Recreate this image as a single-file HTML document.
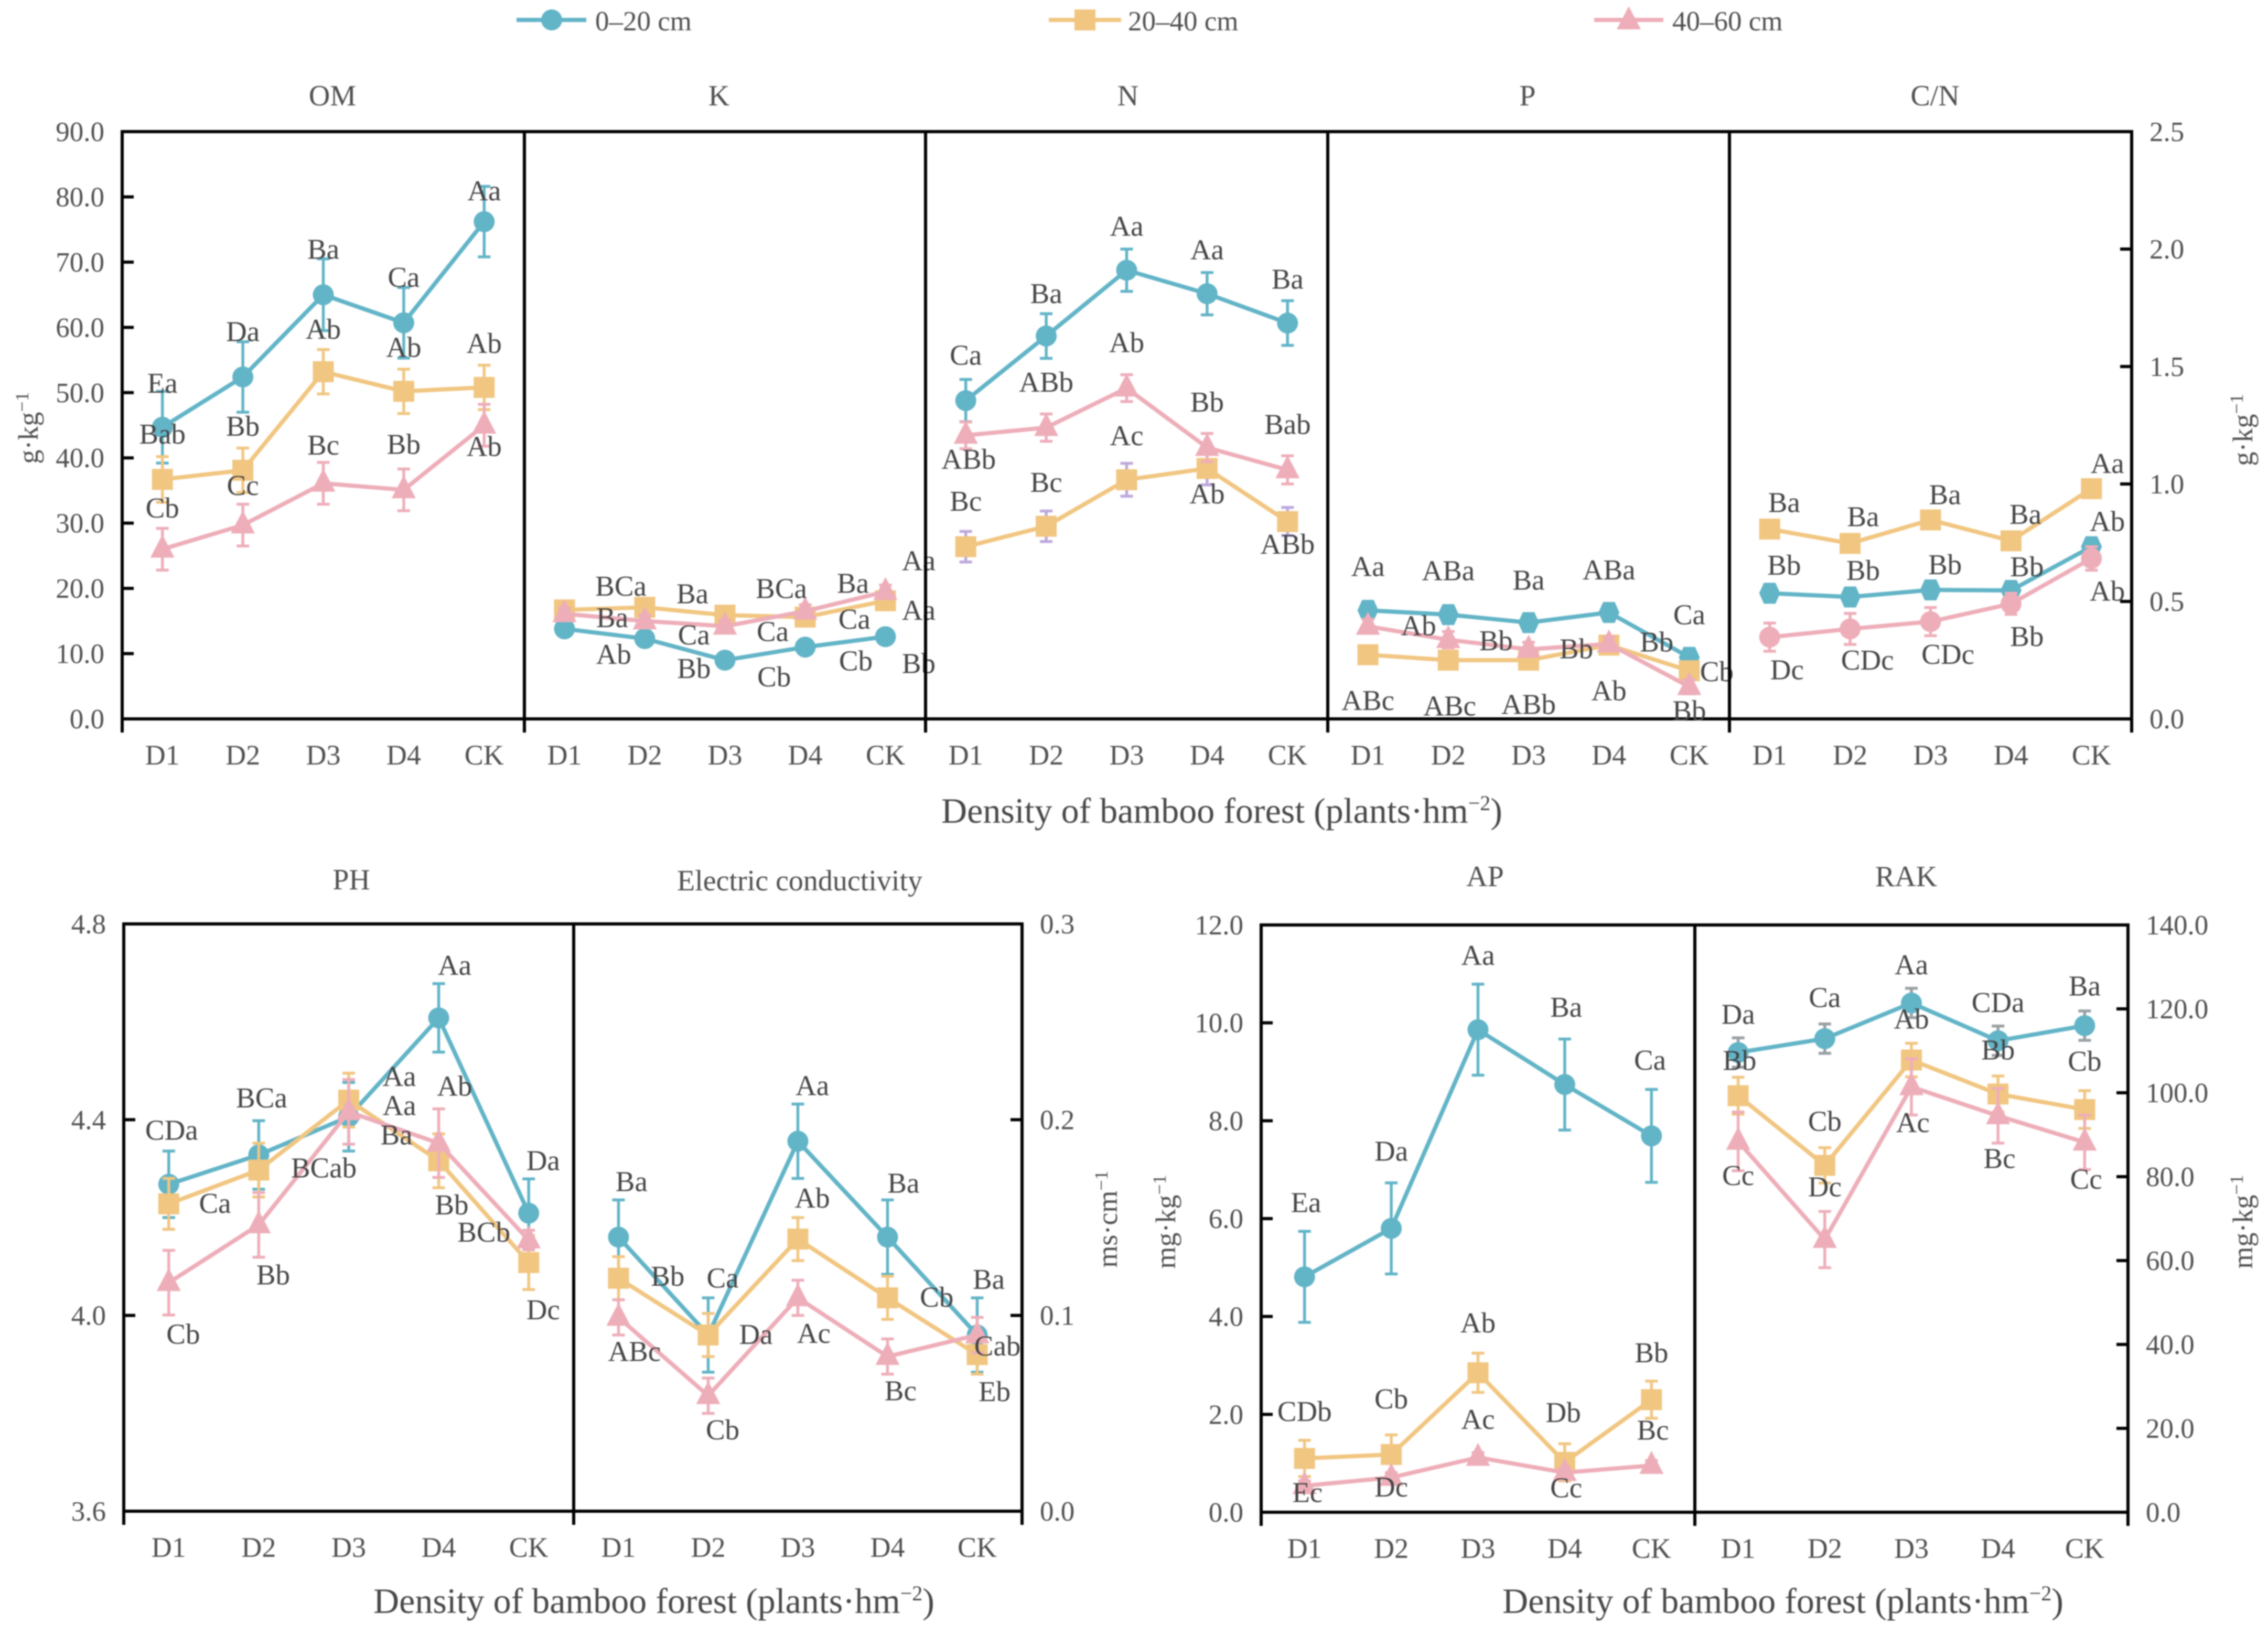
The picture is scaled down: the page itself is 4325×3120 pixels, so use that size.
<!DOCTYPE html>
<html lang="en">
<head>
<meta charset="utf-8">
<title>Soil properties by bamboo forest density</title>
<style>
html,body{margin:0;padding:0;background:#fff;}
body{width:4325px;height:3120px;overflow:hidden;}
svg{display:block;filter:blur(1px);}
text{font-family:"Liberation Serif",serif;fill:#505050;}
.t{font-size:56px;text-anchor:middle;}
.at{font-size:68px;text-anchor:middle;fill:#484848;}
.yt{font-size:54px;text-anchor:middle;}
.sup{font-size:36px;}
.at .sup{font-size:40px;}
.lg{font-size:53px;}
</style>
</head>
<body>
<svg id="chart" xmlns="http://www.w3.org/2000/svg" width="4325" height="3120" viewBox="0 0 4325 3120">
  <rect x="0" y="0" width="4325" height="3120" fill="#ffffff"/>
  <g>
    <g>
      <line x1="985" y1="38" x2="1118" y2="38" stroke="#62b4c7" stroke-width="8"/>
      <circle cx="1052" cy="38" r="20" fill="#62b4c7"/>
      <text class="lg" x="1135" y="58">0–20 cm</text>
    </g>
    <g>
      <line x1="2000" y1="38" x2="2138" y2="38" stroke="#f1c681" stroke-width="8"/>
      <rect x="2049" y="18" width="40" height="40" fill="#f1c681"/>
      <text class="lg" x="2151" y="58">20–40 cm</text>
    </g>
    <g>
      <line x1="3040" y1="38" x2="3172" y2="38" stroke="#eeaeb9" stroke-width="8"/>
      <polygon points="3106,12 3129,56 3083,56" fill="#eeaeb9"/>
      <text class="lg" x="3189" y="58">40–60 cm</text>
    </g>
  </g>
  <text class="t" x="634" y="201">OM</text>
  <text class="t" x="1371" y="201">K</text>
  <text class="t" x="2151" y="201">N</text>
  <text class="t" x="2913" y="201">P</text>
  <text class="t" x="3690" y="201">C/N</text>
  <text class="t" x="670" y="1696">PH</text>
  <text class="t" x="1525" y="1698">Electric conductivity</text>
  <text class="t" x="2832" y="1690">AP</text>
  <text class="t" x="3635" y="1690">RAK</text>

  <text class="at" x="2330" y="1569">Density of bamboo forest (plants·hm<tspan class="sup" dy="-24">−2</tspan><tspan dy="24">)</tspan></text>
  <text class="at" x="1247" y="3076">Density of bamboo forest (plants·hm<tspan class="sup" dy="-24">−2</tspan><tspan dy="24">)</tspan></text>
  <text class="at" x="3400" y="3076">Density of bamboo forest (plants·hm<tspan class="sup" dy="-24">−2</tspan><tspan dy="24">)</tspan></text>

  <text class="yt" transform="translate(72 816) rotate(-90)">g·kg<tspan class="sup" dy="-18">−1</tspan></text>
  <text class="yt" transform="translate(4295 820) rotate(-90)">g·kg<tspan class="sup" dy="-18">−1</tspan></text>
  <text class="yt" transform="translate(2130 2325) rotate(-90)">ms·cm<tspan class="sup" dy="-18">−1</tspan></text>
  <text class="yt" transform="translate(2241 2330) rotate(-90)">mg·kg<tspan class="sup" dy="-18">−1</tspan></text>
  <text class="yt" transform="translate(4295 2330) rotate(-90)">mg·kg<tspan class="sup" dy="-18">−1</tspan></text>
  <g id="plot"></g>
</svg>
<script>
const categories = ['D1', 'D2', 'D3', 'D4', 'CK'];

const omTicks = ['0.0','10.0','20.0','30.0','40.0','50.0','60.0','70.0','80.0','90.0'];
const gTicks = ['0.0','0.5','1.0','1.5','2.0','2.5'];
const phTicks = ['3.6','4.0','4.4','4.8'];
const ecTicks = ['0.0','0.1','0.2','0.3'];
const apTicks = ['0.0','2.0','4.0','6.0','8.0','10.0','12.0'];
const rakTicks = ['0.0','20.0','40.0','60.0','80.0','100.0','120.0','140.0'];

const omShallow = [44.7, 52.4, 65.0, 60.7, 76.2];
const omShallowErr = [5.5, 5.4, 5.5, 5.4, 5.4];
const omShallowText = ['Ea','Da','Ba','Ca','Aa'];
const omMiddle = [36.7, 38.1, 53.2, 50.2, 50.8];
const omMiddleErr = [3.5, 3.4, 3.4, 3.4, 3.4];
const omMiddleText = ['Bab','Bb','Ab','Ab','Ab'];
const omDeep = [26.0, 29.7, 36.1, 35.1, 45.0];
const omDeepErr = [3.2, 3.2, 3.2, 3.2, 3.2];
const omDeepText = ['Cb','Cc','Bc','Bb','Ab'];

const kShallow = [13.8, 12.3, 9.0, 11.0, 12.6];
const kShallowErr = [0.7, 0.7, 0.6, 0.7, 0.7];
const kShallowText = ['Ab','Bb','Cb','Cb','Bb'];
const kMiddle = [16.7, 17.1, 15.9, 15.6, 18.1];
const kMiddleErr = [0.8, 0.8, 0.8, 0.8, 0.8];
const kMiddleText = ['BCa','Ba','BCa','Ba','Aa'];
const kDeep = [16.1, 15.0, 14.2, 16.5, 19.5];
const kDeepErr = [0.9, 0.9, 0.9, 1.0, 1.0];
const kDeepText = ['Ba','Ca','Ca','Ca','Aa'];

const nShallow = [1.355, 1.63, 1.91, 1.81, 1.685];
const nShallowErr = [0.09, 0.095, 0.09, 0.09, 0.095];
const nShallowText = ['Ca','Ba','Aa','Aa','Ba'];
const nMiddle = [0.733, 0.82, 1.018, 1.066, 0.84];
const nMiddleErr = [0.065, 0.065, 0.07, 0.07, 0.06];
const nMiddleText = ['Bc','Bc','Ac','Ab','ABb'];
const nDeep = [1.207, 1.24, 1.408, 1.155, 1.06];
const nDeepErr = [0.057, 0.058, 0.057, 0.06, 0.06];
const nDeepText = ['ABb','ABb','Ab','Bb','Bab'];

const pShallow = [0.462, 0.444, 0.41, 0.453, 0.262];
const pShallowErr = [0.02, 0.02, 0.02, 0.02, 0.02];
const pShallowText = ['Aa','ABa','Ba','ABa','Ca'];
const pMiddle = [0.273, 0.25, 0.25, 0.314, 0.205];
const pMiddleErr = [0.02, 0.02, 0.02, 0.02, 0.02];
const pMiddleText = ['ABc','ABc','ABb','Ab','Cb'];
const pDeep = [0.394, 0.337, 0.296, 0.319, 0.137];
const pDeepErr = [0.03, 0.035, 0.03, 0.03, 0.03];
const pDeepText = ['Ab','Bb','Bb','Bb','Bb'];

const cnShallow = [0.535, 0.519, 0.549, 0.547, 0.733];
const cnShallowErr = [0.02, 0.02, 0.02, 0.02, 0.02];
const cnShallowText = ['Bb','Bb','Bb','Bb','Ab'];
const cnMiddle = [0.808, 0.747, 0.847, 0.758, 0.98];
const cnMiddleErr = [0.015, 0.015, 0.015, 0.015, 0.015];
const cnMiddleText = ['Ba','Ba','Ba','Ba','Aa'];
const cnDeep = [0.348, 0.383, 0.414, 0.49, 0.683];
const cnDeepErr = [0.06, 0.066, 0.06, 0.045, 0.05];
const cnDeepText = ['Dc','CDc','CDc','Bb','Ab'];

const phShallow = [4.268, 4.328, 4.406, 4.608, 4.209];
const phShallowErr = [0.068, 0.07, 0.07, 0.07, 0.07];
const phShallowText = ['CDa','BCa','Ba','Aa','Da'];
const phMiddle = [4.228, 4.297, 4.44, 4.316, 4.108];
const phMiddleErr = [0.052, 0.055, 0.055, 0.055, 0.055];
const phMiddleText = ['Ca','BCab','Aa','Bb','Dc'];
const phDeep = [4.067, 4.185, 4.416, 4.352, 4.154];
const phDeepErr = [0.066, 0.066, 0.066, 0.07, 0.02];
const phDeepText = ['Cb','Bb','Aa','Ab','BCb'];

const ecShallow = [0.14, 0.09, 0.189, 0.14, 0.09];
const ecShallowErr = [0.019, 0.019, 0.019, 0.019, 0.019];
const ecShallowText = ['Ba','Ca','Aa','Ba','Ba'];
const ecMiddle = [0.119, 0.09, 0.139, 0.109, 0.08];
const ecMiddleErr = [0.011, 0.011, 0.011, 0.011, 0.01];
const ecMiddleText = ['Bb','Da','Ab','Cb','Eb'];
const ecDeep = [0.099, 0.059, 0.109, 0.079, 0.09];
const ecDeepErr = [0.009, 0.009, 0.009, 0.009, 0.009];
const ecDeepText = ['ABc','Cb','Ac','Bc','Cab'];

const apShallow = [4.81, 5.8, 9.86, 8.74, 7.69];
const apShallowErr = [0.93, 0.93, 0.93, 0.93, 0.95];
const apShallowText = ['Ea','Da','Aa','Ba','Ca'];
const apMiddle = [1.1, 1.18, 2.85, 1.02, 2.3];
const apMiddleErr = [0.37, 0.4, 0.4, 0.38, 0.38];
const apMiddleText = ['CDb','Cb','Ab','Db','Bb'];
const apDeep = [0.54, 0.71, 1.12, 0.81, 0.955];
const apDeepErr = [0.1, 0.1, 0.1, 0.1, 0.1];
const apDeepText = ['Ec','Dc','Ac','Cc','Bc'];

const rakShallow = [109.6, 112.9, 121.4, 112.4, 116.0];
const rakShallowErr = [3.5, 3.5, 3.5, 3.5, 3.5];
const rakShallowText = ['Da','Ca','Aa','CDa','Ba'];
const rakMiddle = [99.3, 82.7, 107.8, 99.7, 96.0];
const rakMiddleErr = [4.4, 4.2, 4.0, 4.3, 4.5];
const rakMiddleText = ['Bb','Cb','Ab','Bb','Cb'];
const rakDeep = [88.4, 65.0, 101.4, 94.5, 88.2];
const rakDeepErr = [7.0, 6.7, 6.7, 6.5, 6.5];
const rakDeepText = ['Cc','Dc','Ac','Bc','Cc'];

/* label placement relative to each mark (layout only), in 1/2.758 px */
const NUDGE_UNIT = 2.758;
const labelPlacement = {
  om: [[[0,-30],[0,-31],[0,-31],[0,-31],[0,-21]],
       [[0,-31],[0,-30],[0,-29],[0,-30],[0,-30]],
       [[0,-28],[0,-27],[0,-26],[0,-31],[0,15]]],
  k:  [[[34,18],[34,21],[34,12],[35,10],[23,19]],
       [[39,-16],[33,-9],[39,-18],[33,-23],[23,7]],
       [[33,3],[34,10],[33,4],[34,6],[23,-21]]],
  n:  [[[0,-31],[0,-29],[0,-30],[0,-30],[0,-30]],
       [[0,-31],[0,-30],[0,-30],[0,18],[0,16]],
       [[2,17],[0,-31],[0,-31],[0,-31],[0,-31]]],
  p:  [[[0,-30],[0,-30],[0,-29],[0,-29],[0,-29]],
       [[0,32],[1,32],[0,31],[0,32],[19,1]],
       [[35,0],[33,1],[33,0],[33,-1],[0,17]]],
  cn: [[[10,-19],[9,-18],[10,-17],[11,-16],[11,-17]],
       [[10,-18],[9,-18],[10,-17],[10,-18],[11,-17]],
       [[12,23],[12,22],[12,23],[11,23],[11,23]]],
  ph: [[[2,-37],[2,-39],[33,13],[11,-36],[10,-36]],
       [[32,0],[45,-1],[35,-16],[9,31],[10,33]],
       [[10,36],[10,35],[35,-4],[11,-39],[-31,-5]]],
  ec: [[[9,-38],[10,-39],[10,-38],[11,-37],[8,-38]],
       [[34,-1],[33,0],[10,-28],[34,0],[12,26]],
       [[11,24],[10,24],[11,25],[9,24],[14,8]]],
  ap: [[[1,-51],[0,-53],[0,-51],[1,-53],[-1,-52]],
       [[0,-32],[0,-38],[0,-34],[-1,-34],[0,-32]],
       [[2,5],[0,7],[0,-26],[1,11],[1,-24]]],
  rak:[[[0,-26],[0,-28],[0,-26],[0,-26],[0,-27]],
       [[1,-24],[0,-30],[0,-28],[0,-30],[0,-33]],
       [[0,24],[0,-36],[1,25],[1,30],[1,26]]]
};

const BLUE = '#62b4c7', ORANGE = '#f1c681', PINK = '#eeaeb9', PURPLE = '#bda9dc', GREY = '#9aa0a4';

function seriesSet(a, ae, at, b, be, bt, c, ce, ct, opt) {
  opt = opt || {};
  return [
    { name: '0-20-cm', color: BLUE, errColor: opt.aErr || BLUE, marker: opt.aMark || 'circle', values: a, errors: ae, texts: at },
    { name: '20-40-cm', color: ORANGE, errColor: opt.bErr || ORANGE, marker: 'square', values: b, errors: be, texts: bt },
    { name: '40-60-cm', color: PINK, errColor: PINK, marker: opt.cMark || 'triangle', values: c, errors: ce, texts: ct }
  ];
}

const TOP_Y = [251, 1371], LEFT_Y = [1762, 2882], RIGHT_Y = [1764, 2884];
const panels = [
  { key:'om', x:[233,1000], y:TOP_Y, dom:[0,90], tickText:omTicks, axis:'left',
    series: seriesSet(omShallow,omShallowErr,omShallowText,omMiddle,omMiddleErr,omMiddleText,omDeep,omDeepErr,omDeepText) },
  { key:'k', x:[1000,1765], y:TOP_Y, dom:[0,90], tickText:null, axis:'none',
    series: seriesSet(kShallow,kShallowErr,kShallowText,kMiddle,kMiddleErr,kMiddleText,kDeep,kDeepErr,kDeepText) },
  { key:'n', x:[1765,2532], y:TOP_Y, dom:[0,2.5], tickText:null, axis:'none',
    series: seriesSet(nShallow,nShallowErr,nShallowText,nMiddle,nMiddleErr,nMiddleText,nDeep,nDeepErr,nDeepText,{bErr:PURPLE}) },
  { key:'p', x:[2532,3298], y:TOP_Y, dom:[0,2.5], tickText:null, axis:'none',
    series: seriesSet(pShallow,pShallowErr,pShallowText,pMiddle,pMiddleErr,pMiddleText,pDeep,pDeepErr,pDeepText,{aMark:'hexagon'}) },
  { key:'cn', x:[3298,4065], y:TOP_Y, dom:[0,2.5], tickText:gTicks, axis:'right',
    series: seriesSet(cnShallow,cnShallowErr,cnShallowText,cnMiddle,cnMiddleErr,cnMiddleText,cnDeep,cnDeepErr,cnDeepText,{aMark:'hexagon',cMark:'circle'}) },
  { key:'ph', x:[236,1094], y:LEFT_Y, dom:[3.6,4.8], tickText:phTicks, axis:'left',
    series: seriesSet(phShallow,phShallowErr,phShallowText,phMiddle,phMiddleErr,phMiddleText,phDeep,phDeepErr,phDeepText) },
  { key:'ec', x:[1094,1949], y:LEFT_Y, dom:[0,0.3], tickText:ecTicks, axis:'right',
    series: seriesSet(ecShallow,ecShallowErr,ecShallowText,ecMiddle,ecMiddleErr,ecMiddleText,ecDeep,ecDeepErr,ecDeepText) },
  { key:'ap', x:[2405,3232], y:RIGHT_Y, dom:[0,12], tickText:apTicks, axis:'left',
    series: seriesSet(apShallow,apShallowErr,apShallowText,apMiddle,apMiddleErr,apMiddleText,apDeep,apDeepErr,apDeepText) },
  { key:'rak', x:[3232,4058], y:RIGHT_Y, dom:[0,140], tickText:rakTicks, axis:'right',
    series: seriesSet(rakShallow,rakShallowErr,rakShallowText,rakMiddle,rakMiddleErr,rakMiddleText,rakDeep,rakDeepErr,rakDeepText,{aErr:GREY}) }
];

const NS = 'http://www.w3.org/2000/svg';
const plot = document.getElementById('plot');

function make(tag, attrs, parent) {
  const el = document.createElementNS(NS, tag);
  for (const k in attrs) el.setAttribute(k, attrs[k]);
  parent.appendChild(el);
  return el;
}

function xScale(p, i) {
  return p.x[0] + (i + 0.5) * (p.x[1] - p.x[0]) / categories.length;
}
function yScale(p, v) {
  return p.y[1] - (v - p.dom[0]) / (p.dom[1] - p.dom[0]) * (p.y[1] - p.y[0]);
}

function drawMarker(kind, cx, cy, color, parent) {
  if (kind === 'circle') return make('circle', { cx: cx, cy: cy, r: 20, fill: color }, parent);
  if (kind === 'square') return make('rect', { x: cx - 20, y: cy - 20, width: 40, height: 40, fill: color }, parent);
  let pts;
  if (kind === 'triangle') {
    pts = [[cx, cy - 28], [cx + 23, cy + 16], [cx - 23, cy + 16]];
  } else {
    pts = [[cx - 11, cy - 20], [cx + 11, cy - 20], [cx + 20, cy], [cx + 11, cy + 20], [cx - 11, cy + 20], [cx - 20, cy]];
  }
  return make('polygon', { points: pts.map(q => q.join(',')).join(' '), fill: color }, parent);
}

panels.forEach(p => {
  const g = make('g', {}, plot);
  
  

  /* frame */
  const topLine = make('line', { x1: p.x[0] - 3, y1: p.y[0], x2: p.x[1] + 3, y2: p.y[0], stroke: '#000', 'stroke-width': 6 }, g);
  
  
  const xAxis = make('line', { x1: p.x[0] - 3, y1: p.y[1], x2: p.x[1] + 3, y2: p.y[1], stroke: '#000', 'stroke-width': 6 }, g);
  
  
  [p.x[0], p.x[1]].forEach((vx, idx) => {
    const v = make('line', { x1: vx, y1: p.y[0] - 3, x2: vx, y2: p.y[1] + 26, stroke: '#000', 'stroke-width': 6 }, g);
    
    
  });

  /* y ticks */
  if (p.tickText) {
    p.tickText.forEach(txt => {
      const val = parseFloat(txt);
      const ty = yScale(p, val);
      const edge = p.axis === 'left' ? p.x[0] : p.x[1];
      const dir = p.axis === 'left' ? 1 : -1;
      if (val !== p.dom[0] && val !== p.dom[1]) {
        const t = make('line', { x1: edge, y1: ty, x2: edge + dir * 22, y2: ty, stroke: '#000', 'stroke-width': 6 }, g);
        
        
      }
      const lbl = make('text', { x: edge - dir * 34, y: ty + 18, 'font-size': 53, 'text-anchor': p.axis === 'left' ? 'end' : 'start' }, g);
      lbl.textContent = txt;
      
      
    });
  }

  /* categories */
  categories.forEach((c, i) => {
    const lbl = make('text', { x: xScale(p, i), y: p.y[1] + 87, 'font-size': 54, 'text-anchor': 'middle' }, g);
    lbl.textContent = c;
    
    
  });

  /* series */
  p.series.forEach(s => {
    const sg = make('g', {}, g);
    
    
    const pts = s.values.map((v, i) => xScale(p, i) + ',' + yScale(p, v)).join(' ');
    const line = make('polyline', { points: pts, fill: 'none', stroke: s.color, 'stroke-width': 8, 'stroke-linejoin': 'round' }, sg);
    
    
    s.values.forEach((v, i) => {
      const cx = xScale(p, i);
      const hi = yScale(p, v + s.errors[i]);
      const lo = yScale(p, v - s.errors[i]);
      const d = 'M' + cx + ' ' + hi + 'V' + lo + 'M' + (cx - 12) + ' ' + hi + 'H' + (cx + 12) + 'M' + (cx - 12) + ' ' + lo + 'H' + (cx + 12);
      const eb = make('path', { d: d, fill: 'none', stroke: s.errColor, 'stroke-width': 5.5 }, sg);
      
      
      const m = drawMarker(s.marker, cx, yScale(p, v), s.color, sg);
      
      
    });
  });

  /* significance labels */
  p.series.forEach((s, si) => {
    s.values.forEach((v, i) => {
      const n = labelPlacement[p.key][si][i];
      const lx = xScale(p, i) + n[0] * NUDGE_UNIT;
      const ly = yScale(p, v) + n[1] * NUDGE_UNIT + 17;
      const lbl = make('text', { x: lx, y: ly, 'font-size': 55, 'text-anchor': 'middle', style: 'fill:#454545' }, g);
      lbl.textContent = s.texts[i];
      
      
    });
  });
});
</script>
</body>
</html>
